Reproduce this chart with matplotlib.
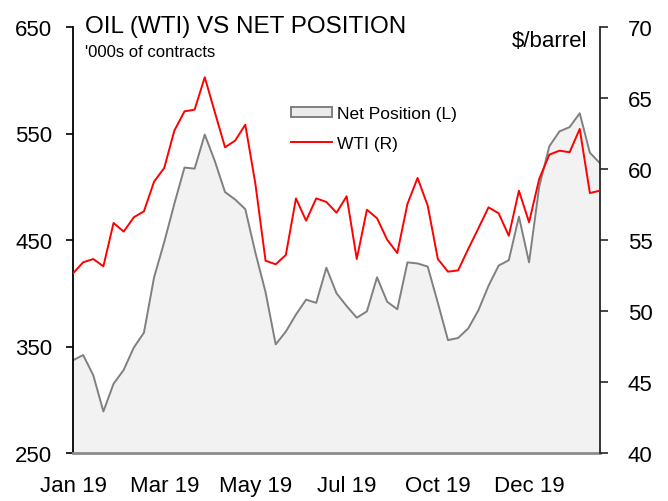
import matplotlib
matplotlib.use("Agg")
import matplotlib.pyplot as plt
from matplotlib.patches import Patch
from matplotlib.lines import Line2D

plt.rcParams['font.family'] = ['Liberation Sans', 'DejaVu Sans']

# Weekly data, 2019 (53 observations)
net_position = [337, 342, 323, 289, 315, 328, 349, 363, 415, 448,
                484, 518, 517, 549, 524, 495, 488, 479, 438, 401,
                352, 364, 380, 394, 391, 424, 400, 388, 377, 383,
                415, 392, 385, 429, 428, 425, 391, 356, 358, 367,
                384, 407, 426, 431, 472, 429, 500, 538, 552, 556,
                569, 532, 522]
wti = [52.65, 53.43, 53.66, 53.15, 56.2, 55.59, 56.6, 57.02, 59.11, 60.07,
       62.7, 64.06, 64.18, 66.46, 63.99, 61.53, 62.0, 63.12, 58.94, 53.54,
       53.29, 53.94, 57.93, 56.36, 57.93, 57.68, 56.92, 58.08, 53.66, 57.13,
       56.53, 55.02, 54.08, 57.54, 59.37, 57.42, 53.66, 52.77, 52.86, 54.37,
       55.82, 57.3, 56.88, 55.3, 58.47, 56.25, 59.3, 61.01, 61.29, 61.18,
       62.82, 58.31, 58.47]
tick_idx = [0, 9, 18, 27, 36, 45]
tick_labels = ["Jan 19", "Mar 19", "May 19", "Jul 19", "Oct 19", "Dec 19"]
left_ticks = [250, 350, 450, 550, 650]
right_ticks = [40, 45, 50, 55, 60, 65, 70]

W, H = 668, 502
fig = plt.figure(figsize=(W / 100, H / 100), dpi=100)
ax = fig.add_axes([73 / W, (H - 454) / H, 527 / W, 426 / H])
ax2 = ax.twinx()

x = list(range(len(net_position)))
ax.fill_between(x, net_position, 250, facecolor='#F2F2F2', edgecolor='none', zorder=1)
ax.plot(x, net_position, color='#808080', lw=1.4, zorder=2)
ax2.plot(x, wti, color='#FF0000', lw=1.4, zorder=3)

ax.set_xlim(0, len(net_position) - 1)
ax.set_ylim(250, 650)
ax2.set_ylim(40, 70)
ax.set_yticks(left_ticks)
ax2.set_yticks(right_ticks)
ax.set_xticks(tick_idx)
ax.set_xticklabels(tick_labels)

for a in (ax, ax2):
    a.spines['top'].set_visible(False)
    a.patch.set_visible(False)
ax.spines['right'].set_visible(False)
ax2.spines['left'].set_visible(False)
ax2.spines['bottom'].set_visible(False)
ax.spines['left'].set_color('black')
ax.spines['left'].set_linewidth(1.3)
ax2.spines['right'].set_color('#262626')
ax2.spines['right'].set_linewidth(1.3)
ax.spines['bottom'].set_color('#8C8C8C')
ax.spines['bottom'].set_linewidth(2.0)

ax.tick_params(axis='y', direction='out', length=5, width=1.2, labelsize=16, pad=10, colors='black')
ax2.tick_params(axis='y', direction='out', length=6, width=1.2, labelsize=16, pad=14, colors='black')
ax2.tick_params(axis='y', color='#262626')
ax.tick_params(axis='x', length=0, labelsize=16, pad=16)

fig.text(85 / W, (H - 33) / H, "OIL (WTI) VS NET POSITION", fontsize=17.5,
         ha='left', va='baseline')
fig.text(85 / W, (H - 57) / H, "'000s of contracts", fontsize=12,
         ha='left', va='baseline')
fig.text(587 / W, (H - 47) / H, "$/barrel", fontsize=16, ha='right', va='baseline')

handles = [Patch(facecolor='#EBEBEB', edgecolor='#808080', lw=1.4),
           Line2D([0], [0], color='#FF0000', lw=1.4)]
leg = ax2.legend(handles, ["Net Position (L)", "WTI (R)"], loc='upper left',
                 bbox_to_anchor=(291 / W, (H - 107) / H), bbox_transform=fig.transFigure,
                 frameon=False, fontsize=12.5, handlelength=2.36, handleheight=0.55,
                 handletextpad=0.27, labelspacing=0.85, borderpad=0, borderaxespad=0)

fig.savefig("out.png", dpi=100)
